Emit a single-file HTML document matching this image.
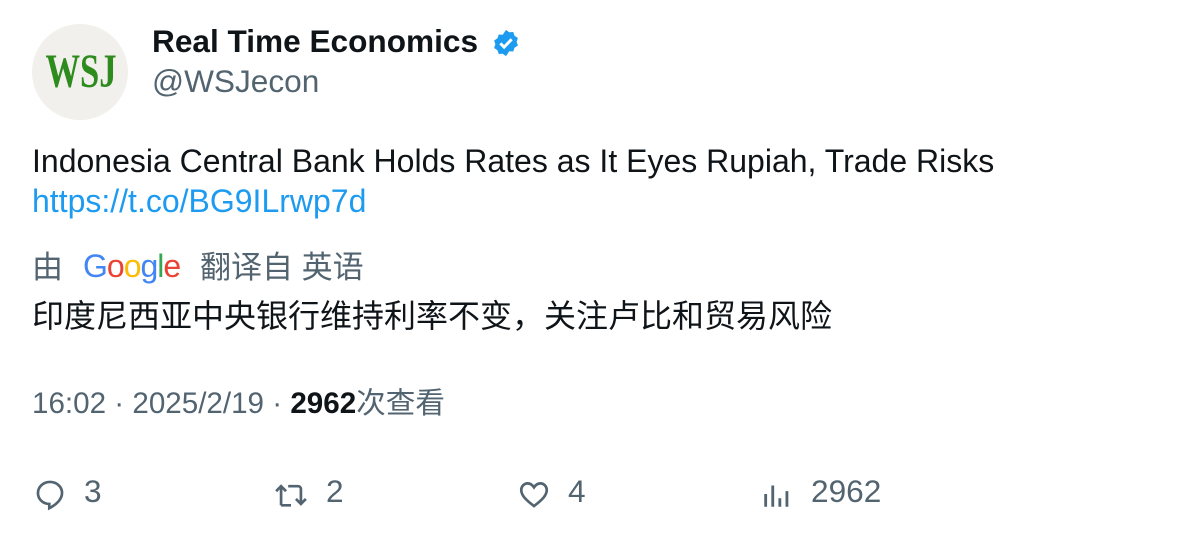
<!DOCTYPE html>
<html><head><meta charset="utf-8"><style>
body{margin:0;width:1196px;height:538px;background:#fff;position:relative;overflow:hidden;font-family:"Liberation Sans","Noto Sans CJK SC",sans-serif;}
.a{position:absolute;white-space:nowrap;line-height:40px;}
.g{color:#536471}
svg{position:absolute}
</style></head><body>
<div style="position:absolute;left:32px;top:24px;width:96px;height:96px;border-radius:50%;background:#f1f0ec;"><div style="position:absolute;left:0;top:0;width:96px;text-align:center;line-height:96px;font-family:'Liberation Serif',serif;font-weight:bold;font-size:48px;color:#2e8b1d;transform:scaleX(0.72)">WSJ</div></div>
<div class="a" style="left:152px;top:21px;font-size:31.6px;font-weight:bold;color:#0f1419">Real Time Economics</div>
<svg style="left:491px;top:28px" width="30" height="30" viewBox="0 0 24 24"><path fill="#1d9bf0" d="M12 1.5l2.6 1.9 3.2-.2 1 3 2.7 1.8-1 3 1 3-2.7 1.8-1 3-3.2-.2L12 22.5l-2.6-1.9-3.2.2-1-3-2.7-1.8 1-3-1-3 2.7-1.8 1-3 3.2.2z"/><path d="M7.5 12.3l3 3 6-6.3" stroke="#fff" stroke-width="2.4" fill="none"/></svg>
<div class="a g" style="left:152px;top:61px;font-size:31.6px">@WSJecon</div>
<div class="a" style="left:32px;top:141px;font-size:32px;color:#0f1419">Indonesia Central Bank Holds Rates as It Eyes Rupiah, Trade Risks</div>
<div class="a" style="left:32px;top:181px;font-size:32px;color:#1d9bf0">https://t.co/BG9ILrwp7d</div>
<div class="a g" style="left:32px;top:248px;font-size:31px">由</div>
<div class="a" style="left:83px;top:246px;font-size:32px;letter-spacing:-1px"><span style="color:#4285f4">G</span><span style="color:#ea4335">o</span><span style="color:#fbbc05">o</span><span style="color:#4285f4">g</span><span style="color:#34a853">l</span><span style="color:#ea4335">e</span></div>
<div class="a g" style="left:200px;top:248px;font-size:31px">翻译自 英语</div>
<div class="a" style="left:32px;top:296px;font-size:32px;color:#0f1419">印度尼西亚中央银行维持利率不变，关注卢比和贸易风险</div>
<div class="a g" style="left:32px;top:384px;font-size:29.6px">16:02 · 2025/2/19 · <b style="color:#0f1419">2962</b>次查看</div>
<svg style="left:33px;top:477px" width="34" height="34" viewBox="0 0 24 24"><path d="M12 3.5c-4.7 0-8.5 3.4-8.5 7.9 0 4.3 3.6 7.6 8 7.6v3l1.5-.8c3-1.7 7.5-5.2 7.5-10 0-4.4-3.8-7.7-8.5-7.7z" fill="none" stroke="#536471" stroke-width="1.9"/></svg>
<div class="a g" style="left:84px;top:471px;font-size:31.6px">3</div>
<svg style="left:274px;top:477px" width="34" height="34" viewBox="0 0 24 24"><path d="M5 20V6.5M1.5 10L5 6.5 8.5 10M10 6.5h7a2 2 0 012 2V19M15.5 15.5L19 19l3.5-3.5M5 20h7" fill="none" stroke="#536471" stroke-width="1.9"/></svg>
<div class="a g" style="left:326px;top:471px;font-size:31.6px">2</div>
<svg style="left:517px;top:477px" width="34" height="34" viewBox="0 0 24 24"><path d="M12 20.5C6 16 3 12.8 3 9.2 3 6.6 5 4.5 7.5 4.5c1.9 0 3.5 1.3 4.5 2.8 1-1.5 2.6-2.8 4.5-2.8C19 4.5 21 6.6 21 9.2c0 3.6-3 6.8-9 11.3z" fill="none" stroke="#536471" stroke-width="1.9"/></svg>
<div class="a g" style="left:568px;top:471px;font-size:31.6px">4</div>
<svg style="left:760px;top:477px" width="34" height="34" viewBox="0 0 24 24"><path d="M4 21V12M9 21V6M14 21V15M19 21V10" stroke="#536471" stroke-width="2" fill="none"/></svg>
<div class="a g" style="left:811px;top:471px;font-size:31.6px">2962</div>
</body></html>
